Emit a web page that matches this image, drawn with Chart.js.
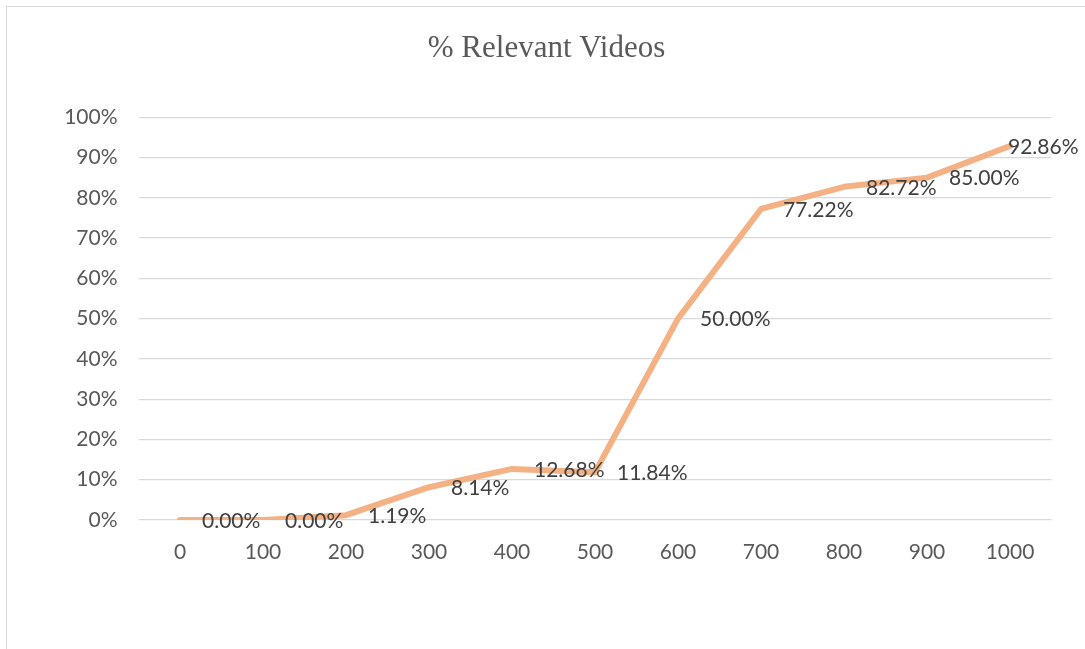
<!DOCTYPE html>
<html>
<head>
<meta charset="utf-8">
<script src="https://cdn.jsdelivr.net/npm/chart.js@4"></script>
<style>
  body { margin: 0; background: #fff; overflow: hidden; }
  #wrap { position: relative; width: 1085px; height: 649px; }
  #frame { position: absolute; left: 6px; top: 6px; width: 1100px; height: 700px; border: 1.5px solid #d9d9d9; }
  canvas { position: absolute; left: 0; top: 0; }
</style>
</head>
<body>
<div id="wrap">
  <div id="frame"></div>
  <canvas id="chart" width="1085" height="649"></canvas>
</div>
<script>
const $ = e => document.querySelector(e);

const labels = ['0', '100', '200', '300', '400', '500', '600', '700', '800', '900', '1000'];
const relevant = [0, 0, 1.19, 8.14, 12.68, 11.84, 50.00, 77.22, 82.72, 85.00, 92.86];
const yTicks = [0, 10, 20, 30, 40, 50, 60, 70, 80, 90, 100];

const tickFont = { family: 'Lato', size: 21 };

// little replacement for the datalabels plugin: text to the right of each point
const pointLabels = {
    id: 'pointLabels',
    afterDatasetsDraw(chart) {
        const ctx = chart.ctx;
        const meta = chart.getDatasetMeta(0);
        ctx.save();
        ctx.font = '21px Lato';
        ctx.fillStyle = '#404040';
        ctx.textBaseline = 'middle';
        meta.data.forEach((pt, i) => {
            const txt = relevant[i].toFixed(2) + '%';
            let x = pt.x + 22;
            const w = ctx.measureText(txt).width;
            if (x + w > chart.width - 6) x = pt.x - 2;
            ctx.textAlign = 'left';
            ctx.fillText(txt, x, pt.y + 1);
        });
        ctx.restore();
    }
};

const chart = new Chart($('#chart'), {
    type: 'line',
    data: {
        labels: labels,
        datasets: [{
            label: '% Relevant Videos',
            data: relevant,
            borderColor: '#f4b183',
            backgroundColor: '#f4b183',
            borderWidth: 6,
            borderJoinStyle: 'round',
            borderCapStyle: 'round',
            pointRadius: 0,
            tension: 0
        }]
    },
    options: {
        responsive: false,
        animation: false,
        layout: { padding: { left: 41.5, right: 33.5, top: 0, bottom: 0 } },
        plugins: {
            legend: { display: false },
            tooltip: { enabled: false },
            title: {
                display: true,
                text: '% Relevant Videos',
                color: '#595959',
                font: { family: 'Liberation Serif', size: 31, weight: 'normal' },
                padding: { top: 30, bottom: 50 }
            }
        },
        scales: {
            x: {
                offset: true,
                grid: { display: false },
                border: { display: false },
                ticks: { color: '#595959', font: tickFont, padding: 12, maxRotation: 0 },
                afterFit: s => { s.height = 129; }
            },
            y: {
                min: 0,
                max: 100,
                afterBuildTicks: s => { s.ticks = yTicks.map(v => ({ value: v })); },
                grid: { color: '#d9d9d9', lineWidth: 1.2, drawTicks: false },
                border: { display: false },
                ticks: {
                    color: '#595959',
                    font: tickFont,
                    padding: 21,
                    callback: v => v + '%'
                },
                afterFit: s => { s.width = 97; }
            }
        }
    },
    plugins: [pointLabels]
});
</script>
</body>
</html>
